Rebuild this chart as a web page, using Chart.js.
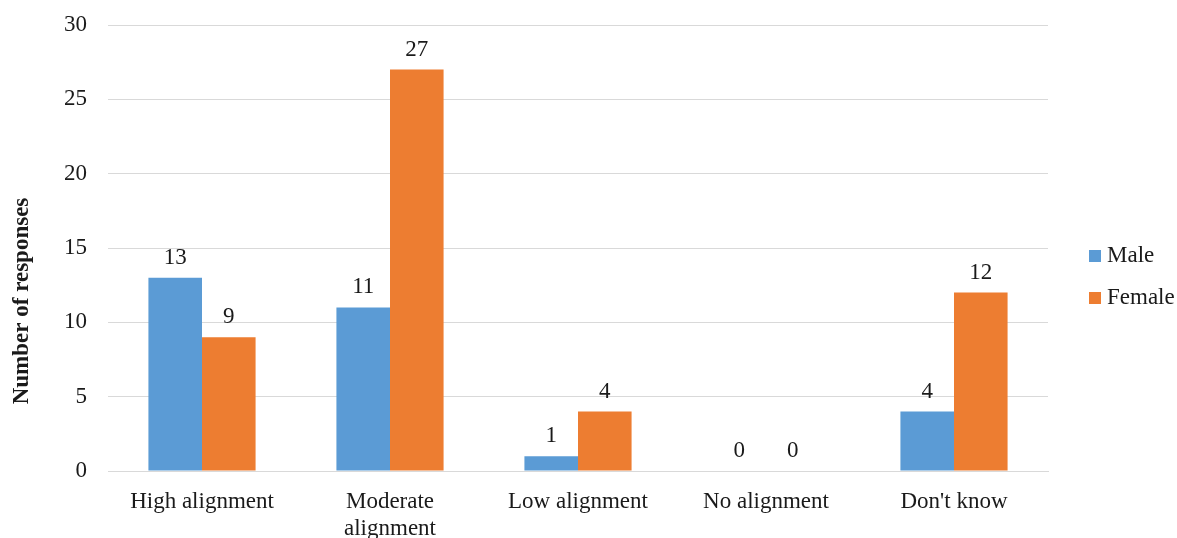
<!DOCTYPE html>
<html>
<head>
<meta charset="utf-8">
<script src="https://cdn.jsdelivr.net/npm/chart.js@4"></script>
<style>
  html, body { margin: 0; padding: 0; background: #fff; }
  #wrap { width: 1177px; height: 538px; }
</style>
</head>
<body>
<div id="wrap"><canvas id="myChart"></canvas></div>
<script>
const categories = ["High alignment", ["Moderate", "alignment"], "Low alignment", "No alignment", "Don't know"];
const maleValues = [13, 11, 1, 0, 4];
const femaleValues = [9, 27, 4, 0, 12];
const yTitle = "Number of responses";

const FONT = "'Liberation Serif', 'Times New Roman', serif";
const textColor = "#1a1a1a";

// numbers above each bar
const valueLabels = {
  id: "valueLabels",
  afterDatasetsDraw(chart) {
    const ctx = chart.ctx;
    ctx.save();
    ctx.font = "23px " + FONT;
    ctx.fillStyle = textColor;
    ctx.textAlign = "center";
    ctx.textBaseline = "alphabetic";
    chart.data.datasets.forEach((ds, i) => {
      chart.getDatasetMeta(i).data.forEach((bar, j) => {
        ctx.fillText(String(ds.data[j]), bar.x, bar.y - 14);
      });
    });
    ctx.restore();
  }
};

// rotated axis title + legend on the right
const sideBits = {
  id: "sideBits",
  afterDraw(chart) {
    const ctx = chart.ctx;
    ctx.save();
    ctx.translate(22, 301);
    ctx.rotate(-Math.PI / 2);
    ctx.font = "bold 23px " + FONT;
    ctx.fillStyle = textColor;
    ctx.textAlign = "center";
    ctx.textBaseline = "middle";
    ctx.fillText(yTitle, 0, 0);
    ctx.restore();

    ctx.save();
    ctx.font = "23px " + FONT;
    ctx.textBaseline = "middle";
    ctx.textAlign = "left";
    chart.data.datasets.forEach((ds, i) => {
      const y = 256 + i * 42;
      ctx.fillStyle = ds.backgroundColor;
      ctx.fillRect(1089, y - 6, 12, 12);
      ctx.fillStyle = textColor;
      ctx.fillText(ds.label, 1107, y);
    });
    ctx.restore();
  }
};

const ctx = document.getElementById("myChart");

new Chart(ctx, {
  type: "bar",
  data: {
    labels: categories,
    datasets: [
      { label: "Male", data: maleValues, backgroundColor: "#5b9bd5" },
      { label: "Female", data: femaleValues, backgroundColor: "#ed7d31" }
    ]
  },
  options: {
    responsive: true,
    maintainAspectRatio: false,
    animation: false,
    layout: { padding: { left: 0, right: 129, top: 25, bottom: 0 } },
    datasets: {
      bar: { categoryPercentage: 0.57, barPercentage: 1.0 }
    },
    plugins: {
      legend: { display: false },
      tooltip: { enabled: false }
    },
    scales: {
      x: {
        grid: { display: false, drawTicks: false },
        border: { color: "#d9d9d9", width: 1 },
        ticks: {
          color: textColor,
          font: { family: FONT, size: 23 },
          maxRotation: 0,
          autoSkip: false,
          padding: 17
        },
        afterFit: s => { s.height = 67; }
      },
      y: {
        min: 0,
        max: 30,
        // invisible tick marks give the gap, so the top label padding stays small
        grid: { color: "#d9d9d9", lineWidth: 1, drawTicks: true, tickLength: 18, tickColor: "rgba(0,0,0,0)" },
        border: { display: false },
        ticks: {
          stepSize: 5,
          color: textColor,
          font: { family: FONT, size: 23 },
          padding: 3
        },
        afterFit: s => { s.width = 108; }
      }
    }
  },
  plugins: [valueLabels, sideBits]
});
</script>
</body>
</html>
